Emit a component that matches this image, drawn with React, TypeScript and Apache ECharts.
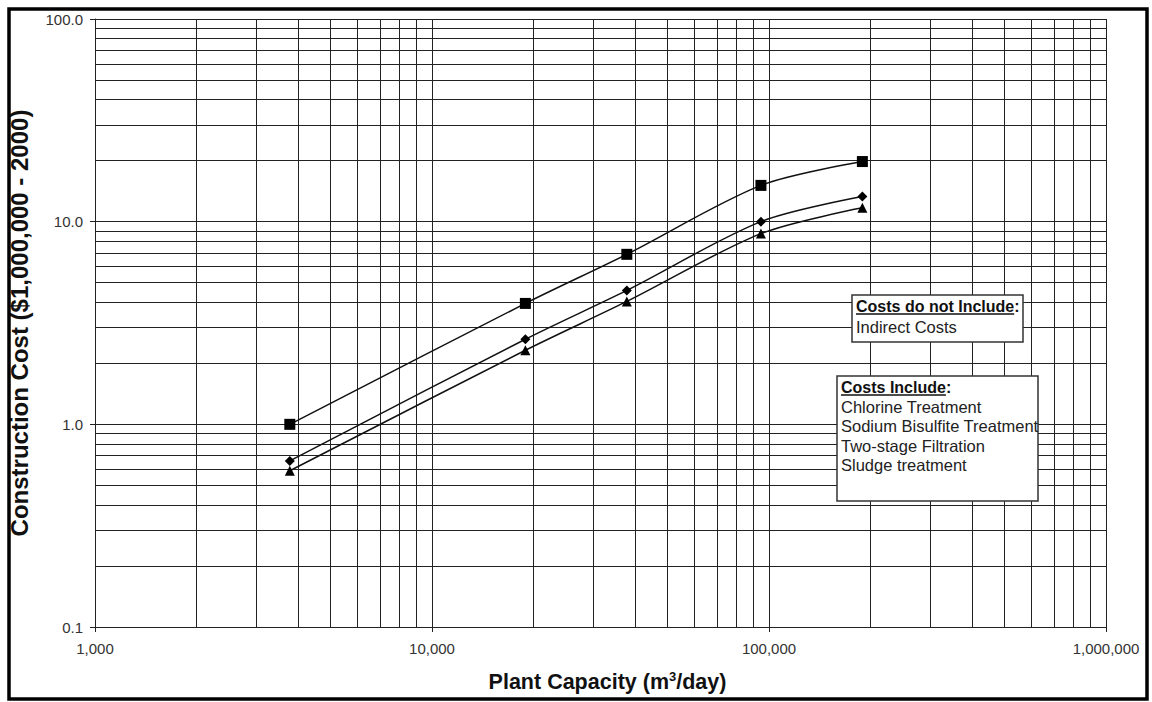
import React, { useEffect, useRef } from "react";
import * as echarts from "echarts";

// Plant capacity (m3/day) – 1, 5, 10, 25, 50 MGD
const capacities = [3785, 18927, 37854, 94635, 189270];
// Construction cost ($1,000,000 - 2000)
const seriesSquare = [1.0, 3.95, 6.9, 15.1, 19.8];
const seriesDiamond = [0.66, 2.63, 4.58, 10.0, 13.3];
const seriesTriangle = [0.59, 2.32, 4.04, 8.73, 11.7];

// axis ranges / tick labels
const xRange = [1000, 1000000];
const yRange = [0.1, 100];
const xTickLabels = ["1,000", "10,000", "100,000", "1,000,000"];
const yTickLabels = ["0.1", "1.0", "10.0", "100.0"];

// minor grid lines (2..9 x each decade)
const xMinorGrid = [
  2000, 3000, 4000, 5000, 6000, 7000, 8000, 9000,
  20000, 30000, 40000, 50000, 60000, 70000, 80000, 90000,
  200000, 300000, 400000, 500000, 600000, 700000, 800000, 900000,
];
const yMinorGrid = [
  0.2, 0.3, 0.4, 0.5, 0.6, 0.7, 0.8, 0.9,
  2, 3, 4, 5, 6, 7, 8, 9,
  20, 30, 40, 50, 60, 70, 80, 90,
];

const noteExcludedTitle = "Costs do not Include";
const noteExcludedItems = ["Indirect Costs"];
const noteIncludedTitle = "Costs Include";
const noteIncludedItems = [
  "Chlorine Treatment",
  "Sodium Bisulfite Treatment",
  "Two-stage Filtration",
  "Sludge treatment",
];

const FONT = "Liberation Sans";
const GRID_COLOR = "#222";

function pairs(ys: number[]) {
  return capacities.map((x, i) => [x, ys[i]]);
}

function textEl(x: number, y: number, text: string, bold: boolean, color: string, size: number) {
  return {
    type: "text",
    z: 101,
    x,
    y,
    style: {
      text,
      fontFamily: FONT,
      fontSize: size,
      fontWeight: bold ? "bold" : "normal",
      fill: color,
      verticalAlign: "middle",
      align: "left",
    },
  };
}

function noteBox(
  x: number,
  y: number,
  w: number,
  h: number,
  title: string,
  items: string[],
  lineH: number
) {
  const tw = (echarts.format as any).getTextRect?.(title, `bold 16px ${FONT}`)?.width;
  const titleW = typeof tw === "number" && tw > 0 ? tw : title.length * 8;
  const children: any[] = [
    {
      type: "rect",
      z: 100,
      shape: { x, y, width: w, height: h },
      style: { fill: "#fff", stroke: "#333", lineWidth: 1.5 },
    },
    textEl(x + 4, y + 11, title, true, "#111", 16),
    textEl(x + 4 + titleW, y + 11, ":", true, "#111", 16),
    {
      type: "line",
      z: 101,
      shape: { x1: x + 4, y1: y + 19, x2: x + 4 + titleW, y2: y + 19 },
      style: { stroke: "#111", lineWidth: 1.5 },
    },
  ];
  items.forEach((t, i) => {
    children.push(textEl(x + 4, y + 11 + lineH * (i + 1), t, false, "#222", 16.5));
  });
  return { type: "group", z: 100, children };
}

export default function App() {
  const ref = useRef<HTMLDivElement>(null);

  useEffect(() => {
    document.body.style.margin = "0";
    if (!ref.current) return;
    const chart = echarts.init(ref.current, undefined, { renderer: "svg" });

    const lineSeries = (name: string, data: number[], symbol: string, size: number, extra: any = {}) => ({
      name,
      type: "line",
      data: pairs(data),
      smooth: 0.3,
      symbol,
      symbolSize: size,
      showSymbol: true,
      lineStyle: { color: "#111", width: 1.5 },
      itemStyle: { color: "#000" },
      z: 5,
      ...extra,
    });

    chart.setOption({
      animation: false,
      backgroundColor: "#fff",
      textStyle: { fontFamily: FONT },
      grid: {
        left: 95,
        top: 19,
        right: 46,
        bottom: 75,
        containLabel: false,
        outerBoundsMode: "none",
      },
      xAxis: {
        type: "log",
        logBase: 10,
        min: xRange[0],
        max: xRange[1],
        name: "Plant Capacity (m{sup|3}/day)",
        nameLocation: "middle",
        nameGap: 43,
        nameTextStyle: {
          fontFamily: FONT,
          fontWeight: "bold",
          fontSize: 21.5,
          color: "#111",
          padding: [0, 0, 0, 14],
          rich: {
            sup: {
              fontFamily: FONT,
              fontWeight: "bold",
              fontSize: 13,
              color: "#111",
              verticalAlign: "top",
              padding: [0, 0, 10, 0],
            },
          },
        },
        axisLine: { show: true, lineStyle: { color: "#222", width: 1 } },
        axisTick: { show: true, length: 5, lineStyle: { color: "#222" } },
        axisLabel: {
          margin: 14,
          fontFamily: FONT,
          fontSize: 15,
          color: "#333",
          formatter: (v: number) => xTickLabels[Math.round(Math.log10(v)) - 3] ?? "",
        },
        splitLine: { show: true, lineStyle: { color: GRID_COLOR, width: 1 } },
      },
      yAxis: {
        type: "log",
        logBase: 10,
        min: yRange[0],
        max: yRange[1],
        name: "Construction Cost ($1,000,000 - 2000)",
        nameLocation: "middle",
        nameGap: 64,
        nameTextStyle: { fontFamily: FONT, fontWeight: "bold", fontSize: 24, color: "#111" },
        axisLine: { show: true, lineStyle: { color: "#222", width: 1 } },
        axisTick: { show: true, length: 5, lineStyle: { color: "#222" } },
        axisLabel: {
          margin: 12,
          fontFamily: FONT,
          fontSize: 15,
          color: "#333",
          formatter: (v: number) => yTickLabels[Math.round(Math.log10(v)) + 1] ?? "",
        },
        splitLine: { show: true, lineStyle: { color: GRID_COLOR, width: 1 } },
      },
      series: [
        lineSeries("Square", seriesSquare, "rect", 11, {
          markLine: {
            silent: true,
            symbol: ["none", "none"],
            label: { show: false },
            lineStyle: { color: GRID_COLOR, width: 1, type: "solid" },
            emphasis: { disabled: true },
            z: 1,
            data: [
              ...xMinorGrid.map((v) => ({ xAxis: v })),
              ...yMinorGrid.map((v) => ({ yAxis: v })),
            ],
          },
        }),
        lineSeries("Diamond", seriesDiamond, "diamond", 10),
        lineSeries("Triangle", seriesTriangle, "triangle", 10),
      ],
      graphic: [
        {
          type: "rect",
          z: 100,
          shape: { x: 9, y: 9, width: 1138, height: 690 },
          style: { fill: "none", stroke: "#000", lineWidth: 3.5 },
        },
        noteBox(852, 295, 171, 47, noteExcludedTitle, noteExcludedItems, 21),
        noteBox(837, 376, 201, 125, noteIncludedTitle, noteIncludedItems, 19.5),
      ],
    });

    return () => chart.dispose();
  }, []);

  return <div ref={ref} style={{ width: 1152, height: 702 }} />;
}
